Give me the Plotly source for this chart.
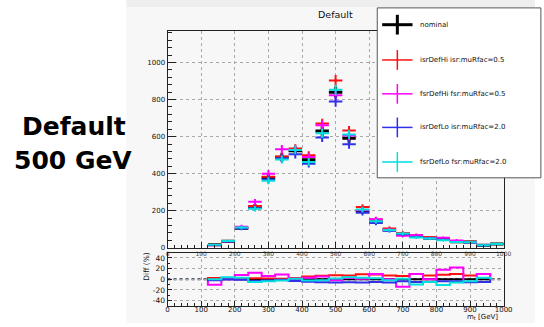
import math
import plotly.graph_objects as go

W, H = 544, 327

# ---- data -----------------------------------------------------------------
bin_width = 40
bin_centers = [140, 180, 220, 260, 300, 340, 380, 420, 460, 500, 540,
               580, 620, 660, 700, 740, 780, 820, 860, 900, 940, 980]
nominal = [15, 35, 105, 221, 377, 488, 523, 475, 630, 840, 591,
           200, 140, 97, 75, 61, 52, 45, 32, 30, 13, 19]

# relative difference to nominal, in percent, per bin
diff_isr_hi = [2.5, 2.5, 1.5, 2, 1.5, 1, 2.5, 5, 6.5, 7.5, 7,
               9.5, 9, 7, 6, 10, 7, 8.5, 10, 7, 10, 0]
diff_fsr_hi = [-10.5, 0, 8, 12, 6, 9, 1, 3, 5, -2, 2.5,
               1, 10, 0, -14, 10, 0, 18, 22, -5, 10, 0]
diff_isr_lo = [-2, 0, -1, -3.5, -2.5, -1, -3.5, -4.5, -5.5, -6, -5.5,
               -6, -5, -6, -4, -5, -5, -4, -4, -5.5, -5, 0]
diff_fsr_lo = [0, 3.5, 3, -5, -4, -2.5, 1, -2.5, -2, 1.5, 3.5,
               3, 2, -2, 1, -10, -5, -11, -6, -4, 3, 0]

series = [
    ("nominal", "#000000", [0.0] * len(nominal)),
    ("isrDefHi isr:muRfac=0.5", "#ff1010", diff_isr_hi),
    ("fsrDefHi fsr:muRfac=0.5", "#ff00ff", diff_fsr_hi),
    ("isrDefLo isr:muRfac=2.0", "#3030e8", diff_isr_lo),
    ("fsrDefLo fsr:muRfac=2.0", "#00dede", diff_fsr_lo),
]

FONT = "DejaVu Sans"


def px(x):
    return x / W


def py(y):
    return 1 - y / H


fig = go.Figure()

# ---- main panel: yields with error crosses --------------------------------
for name, color, diff in series:
    vals = [n * (1 + d / 100.0) for n, d in zip(nominal, diff)]
    errs = [math.sqrt(v) for v in vals]
    thick = 3 if name == "nominal" else 2
    fig.add_trace(go.Scatter(
        x=bin_centers, y=vals, mode="markers", name=name,
        marker=dict(size=2, color=color),
        error_x=dict(type="constant", value=bin_width / 2, width=0,
                     thickness=thick, color=color),
        error_y=dict(type="data", array=errs, width=0,
                     thickness=thick, color=color),
        xaxis="x", yaxis="y", showlegend=False,
    ))

# ---- ratio panel: step outlines of the differences -------------------------
edges = [c - bin_width / 2 for c in bin_centers[:-1]] + [bin_centers[-2] + bin_width / 2]
for name, color, diff in series:
    d = diff[:-1]
    xs = [edges[0]] + edges[:-1] + [edges[-1], edges[-1]]
    ys = [0] + d + [d[-1], 0]
    fig.add_trace(go.Scatter(
        x=xs, y=ys, mode="lines", line=dict(color=color, width=2, shape="hv"),
        xaxis="x2", yaxis="y2", showlegend=False, hoverinfo="skip",
    ))

shapes = [
    # canvas backgrounds
    dict(type="rect", xref="paper", yref="paper", x0=px(127), x1=1, y0=0, y1=1,
         fillcolor="#f7f7f7", line=dict(width=0), layer="below"),
    dict(type="rect", xref="paper", yref="paper", x0=px(127), x1=1, y0=py(7), y1=1,
         fillcolor="#eeeeee", line=dict(width=0), layer="below"),
    # zero line of the ratio panel
    dict(type="line", xref="x2", yref="y2", x0=0, x1=1000, y0=0, y1=0,
         line=dict(color="#1c2f4a", width=2, dash="dot"), layer="below"),
    # legend frame
    dict(type="rect", xref="paper", yref="paper", x0=px(383), x1=px(550),
         y0=py(180), y1=py(8), fillcolor="white",
         line=dict(color="#555555", width=1), layer="above"),
]

annotations = [
    dict(text="<b>Default</b>", x=px(73), y=py(128), xref="paper", yref="paper",
         showarrow=False, font=dict(family=FONT, size=25, color="black"),
         xanchor="center", yanchor="middle"),
    dict(text="<b>500 GeV</b>", x=px(72.5), y=py(162), xref="paper", yref="paper",
         showarrow=False, font=dict(family=FONT, size=25, color="black"),
         xanchor="center", yanchor="middle"),
    dict(text="Default", x=px(340), y=py(15), xref="paper", yref="paper",
         showarrow=False, font=dict(family=FONT, size=9.5, color="#111"),
         xanchor="center", yanchor="middle"),
    dict(text="Diff (%)", x=px(148), y=py(270), xref="paper", yref="paper",
         showarrow=False, textangle=-90, font=dict(family=FONT, size=7.5, color="#111"),
         xanchor="center", yanchor="middle"),
    dict(text="m<sub>t</sub> [GeV]", x=px(508), y=py(327.5), xref="paper", yref="paper",
         showarrow=False, font=dict(family=FONT, size=7, color="#111"),
         xanchor="right", yanchor="bottom"),
]

# legend entries drawn as crosses
legend_y = [25, 60.7, 95, 129, 164]
for (name, color, _), yc in zip(series, legend_y):
    w = 3 if name == "nominal" else 1.5
    shapes.append(dict(type="line", xref="paper", yref="paper",
                       x0=px(388), x1=px(419), y0=py(yc), y1=py(yc),
                       line=dict(color=color, width=w), layer="above"))
    shapes.append(dict(type="line", xref="paper", yref="paper",
                       x0=px(403.5), x1=px(403.5), y0=py(yc - 10), y1=py(yc + 10),
                       line=dict(color=color, width=w), layer="above"))
    annotations.append(dict(text=name, x=px(425), y=py(yc), xref="paper", yref="paper",
                            showarrow=False, font=dict(family=FONT, size=7, color="#111"),
                            xanchor="left", yanchor="middle"))

axis_common = dict(showline=True, linecolor="#222", linewidth=1, mirror=True,
                   ticks="inside", tickcolor="#222",
                   showgrid=True, gridcolor="#a8a8a8", griddash="dot", gridwidth=1,
                   zeroline=False, tickfont=dict(family=FONT, size=7, color="#111"))

fig.update_layout(
    width=W, height=H,
    margin=dict(l=0, r=0, t=0, b=0),
    paper_bgcolor="white", plot_bgcolor="white",
    xaxis=dict(domain=[px(169), px(512)], range=[0, 1000], anchor="y",
               dtick=100, ticklen=6, minor=dict(dtick=20, ticklen=3, ticks="inside", tickcolor="#222"),
               **{**axis_common, "tickfont": dict(family=FONT, size=6, color="#444")}),
    yaxis=dict(domain=[py(250.7), py(31.5)], range=[0, 1170], anchor="x",
               dtick=200, ticklen=8, minor=dict(dtick=40, ticklen=4, ticks="inside", tickcolor="#222"),
               **axis_common),
    xaxis2=dict(domain=[px(169), px(512)], range=[0, 1000], anchor="y2",
                dtick=100, ticklen=5, ticklabelstandoff=-3,
                minor=dict(dtick=20, ticklen=3, ticks="inside", tickcolor="#222"),
                **{**axis_common, "tickfont": dict(family=FONT, size=7, color="#111")}),
    yaxis2=dict(domain=[py(309.7), py(255.7)], range=[-50, 50], anchor="x2",
                tickvals=[-40, -20, 0, 20, 40], ticktext=["-40", "-20", "0", "20", "40"],
                ticklen=4,
                minor=dict(dtick=10, ticklen=2, ticks="inside", tickcolor="#222"),
                **{**axis_common, "tickfont": dict(family=FONT, size=7.5, color="#111")}),
    shapes=shapes,
    annotations=annotations,
)

fig.write_html("out.html")
